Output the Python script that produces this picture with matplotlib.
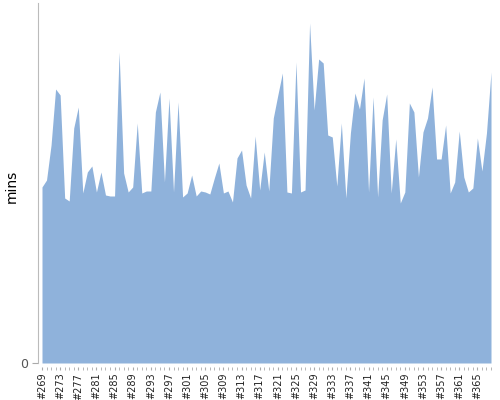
# Area chart of minutes per build
import matplotlib
matplotlib.use('Agg')
import matplotlib.pyplot as plt

builds = ['#' + str(n) for n in range(269, 369)]
mins = [17.6, 18.3, 21.8, 27.4, 26.8, 16.5, 16.2, 23.5, 25.6, 17.0,
        19.1, 19.7, 17.1, 19.1, 16.8, 16.7, 16.7, 31.1, 19.0, 17.1,
        17.6, 24.0, 17.0, 17.2, 17.2, 25.1, 27.1, 18.1, 26.5, 17.1,
        26.1, 16.6, 17.0, 18.8, 16.7, 17.2, 17.1, 16.9, 18.5, 20.0,
        17.0, 17.2, 16.1, 20.5, 21.3, 17.8, 16.5, 22.7, 17.3, 21.1,
        17.2, 24.5, 26.8, 29.0, 17.1, 17.0, 30.1, 17.1, 17.3, 34.0,
        25.3, 30.4, 30.0, 22.8, 22.6, 17.7, 24.0, 16.5, 23.0, 27.0,
        25.4, 28.5, 17.1, 26.6, 16.6, 24.3, 26.9, 17.0, 22.4, 16.0,
        17.1, 26.0, 25.1, 18.6, 23.1, 24.5, 27.6, 20.4, 20.4, 23.8,
        17.0, 18.1, 23.2, 18.6, 17.1, 17.5, 22.5, 19.2, 23.0, 29.1]

x = list(range(len(mins)))

fig = plt.figure(figsize=(5, 4), dpi=100)
ax = fig.add_axes([38 / 500, 37 / 400, 453 / 500, 360 / 400])

ax.fill_between(x, mins, 0, color='#8fb2db', linewidth=0)

ax.set_xlim(-0.88, 99)
ax.set_ylim(0, 36)

for s in ['top', 'right']:
    ax.spines[s].set_visible(False)
ax.spines['left'].set_color('#bbbbbb')
ax.spines['bottom'].set_position(('outward', 3))
ax.spines['bottom'].set_visible(False)

ax.set_yticks([0])
ax.set_yticklabels(['0'], fontsize=9, color='#555555')
ax.tick_params(axis='y', length=4, color='#aaaaaa', pad=3)

ax.set_xticks(x, minor=True)
ax.set_xticks(x[::4])
ax.set_xticklabels(builds[::4], rotation=90, fontsize=7, color='#222222')
ax.tick_params(axis='x', which='both', length=2, color='#aaaaaa', pad=2)

ax.set_ylabel('mins', fontsize=10)
ax.yaxis.set_label_coords(-0.042, 0.49)

fig.savefig('out.png')
